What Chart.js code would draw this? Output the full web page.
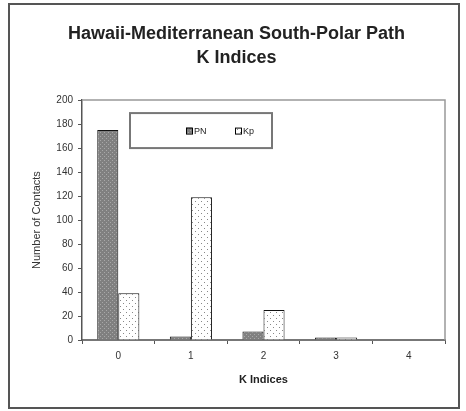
<!DOCTYPE html>
<html>
<head>
<meta charset="utf-8">
<script src="https://cdn.jsdelivr.net/npm/chart.js@4"></script>
<style>
  body { margin: 0; background: #fff; }
  #frame { position: absolute; left: 8px; top: 3px; width: 448px; height: 402px; border: 2px solid #555; }
  canvas { position: absolute; left: 0; top: 0; }
</style>
</head>
<body>
<div id="frame"></div>
<canvas id="myChart" width="466" height="411"></canvas>
<script>
// K index categories and contact counts
const kIndices = ["0", "1", "2", "3", "4"];
const pnCounts = [175, 3, 7, 2, 0];
const kpCounts = [39, 119, 25, 2, 0];
const seriesNames = ["PN", "Kp"];
const yTicks = [0, 20, 40, 60, 80, 100, 120, 140, 160, 180, 200];

// small fill textures like the original spreadsheet chart
function makePattern(bg, dot, step) {
	const c = document.createElement("canvas");
	c.width = step; c.height = step;
	const g = c.getContext("2d");
	g.fillStyle = bg;
	g.fillRect(0, 0, step, step);
	g.fillStyle = dot;
	g.fillRect(0, 0, 1, 1);
	g.fillRect(step / 2, step / 2, 1, 1);
	return g.createPattern(c, "repeat");
}

const darkFill = makePattern("#808080", "#a8a8a8", 4);
const lightFill = makePattern("#ffffff", "#888888", 6);

// frame around plot area and the inset legend box
const framePlugin = {
	id: "frame",
	afterLayout(chart) {
		// the title in the original sits a touch right of the page centre
		chart.titleBlock.left += 4;
		chart.titleBlock.right += 4;
	},
	beforeDatasetsDraw(chart) {
		const { ctx, chartArea: a } = chart;
		ctx.save();
		ctx.strokeStyle = "#999";
		ctx.lineWidth = 1.5;
		ctx.beginPath();
		ctx.moveTo(a.left, a.top);
		ctx.lineTo(a.right, a.top);
		ctx.lineTo(a.right, a.bottom);
		ctx.stroke();
		ctx.restore();
	},
	afterDraw(chart) {
		const { ctx, chartArea: a } = chart;
		const x = a.left + 48, y = a.top + 13, w = 142, h = 35;
		ctx.save();
		ctx.fillStyle = "#fff";
		ctx.fillRect(x, y, w, h);
		ctx.strokeStyle = "#777";
		ctx.lineWidth = 2;
		ctx.strokeRect(x, y, w, h);
		ctx.font = "9px 'Liberation Sans', Arial, sans-serif";
		ctx.textBaseline = "middle";
		const fills = [darkFill, lightFill];
		const xs = [x + 56, x + 105];
		chart.data.datasets.forEach((ds, i) => {
			ctx.fillStyle = fills[i];
			ctx.fillRect(xs[i], y + h / 2 - 3, 6, 6);
			ctx.strokeStyle = "#000";
			ctx.lineWidth = 1;
			ctx.strokeRect(xs[i] + 0.5, y + h / 2 - 2.5, 6, 6);
			ctx.fillStyle = "#222";
			ctx.fillText(ds.label, xs[i] + 8, y + h / 2 + 0.5);
		});
		ctx.restore();
	}
};

const ctx = document.getElementById("myChart").getContext("2d");

const myChart = new Chart(ctx, {
	type: "bar",
	data: {
		labels: kIndices,
		datasets: [
			{
				label: seriesNames[0],
				data: pnCounts,
				backgroundColor: darkFill,
				borderColor: "#111",
				borderWidth: 1,
				categoryPercentage: 0.58,
				barPercentage: 1,
			},
			{
				label: seriesNames[1],
				data: kpCounts,
				backgroundColor: lightFill,
				borderColor: "#111",
				borderWidth: 1,
				categoryPercentage: 0.58,
				barPercentage: 1,
			},
		],
	},
	options: {
		responsive: false,
		animation: false,
		layout: { padding: { left: 20, right: 21, top: 17, bottom: 20 } },
		plugins: {
			legend: { display: false },
			tooltip: { enabled: false },
			title: {
				display: true,
				text: ["Hawaii-Mediterranean South-Polar Path", "K Indices"],
				color: "#222",
				font: { family: "'Liberation Sans', Arial, sans-serif", size: 18, weight: "bold", lineHeight: 1.28 },
				padding: { top: 6, bottom: 31 },
			},
		},
		scales: {
			x: {
				afterFit(scale) { scale.height = 51; },
				grid: { drawOnChartArea: false, drawTicks: true, tickLength: 4, color: "#555", offset: true },
				border: { color: "#777", width: 2 },
				ticks: { color: "#333", padding: 6, font: { family: "'Liberation Sans', Arial, sans-serif", size: 10 } },
				title: {
					display: true,
					text: "K Indices",
					color: "#222",
					padding: { top: 9 },
					font: { family: "'Liberation Sans', Arial, sans-serif", size: 11, weight: "bold" },
				},
			},
			y: {
				min: 0,
				max: 200,
				afterFit(scale) { scale.width = 62; },
				afterBuildTicks(scale) { scale.ticks = yTicks.map(v => ({ value: v })); },
				grid: { drawOnChartArea: false, drawTicks: true, tickLength: 4, color: "#555" },
				border: { color: "#555", width: 1.5 },
				ticks: { color: "#333", padding: 5, font: { family: "'Liberation Sans', Arial, sans-serif", size: 10 } },
				title: {
					display: true,
					text: "Number of Contacts",
					color: "#333",
					padding: { top: 10, bottom: 4 },
					font: { family: "'Liberation Sans', Arial, sans-serif", size: 11 },
				},
			},
		},
	},
	plugins: [framePlugin],
});
</script>
</body>
</html>
